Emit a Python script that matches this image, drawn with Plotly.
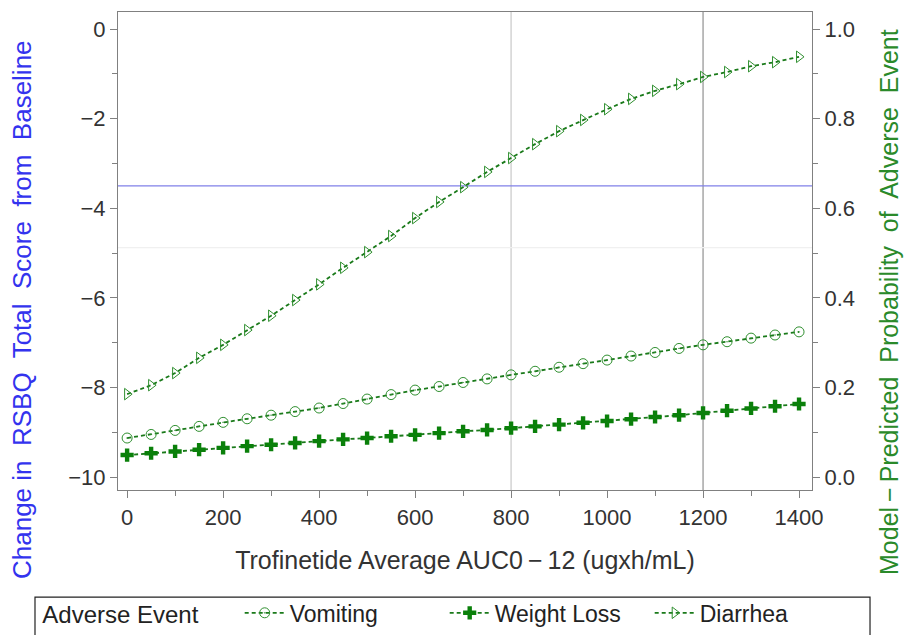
import plotly.graph_objects as go

auc = [0, 50, 100, 150, 200, 250, 300, 350, 400, 450, 500, 550, 600, 650, 700,
       750, 800, 850, 900, 950, 1000, 1050, 1100, 1150, 1200, 1250, 1300, 1350, 1400]

vomiting = [0.087, 0.095, 0.104, 0.113, 0.122, 0.130, 0.138, 0.146, 0.154, 0.164, 0.174, 0.184, 0.194,
            0.202, 0.211, 0.219, 0.228, 0.236, 0.245, 0.253, 0.261, 0.270, 0.278, 0.287, 0.295,
            0.302, 0.310, 0.317, 0.324]
weight_loss = [0.049, 0.053, 0.057, 0.061, 0.065, 0.069, 0.072, 0.076, 0.080, 0.084, 0.087, 0.091, 0.094,
               0.098, 0.102, 0.105, 0.109, 0.113, 0.117, 0.121, 0.125, 0.129, 0.134, 0.138, 0.143,
               0.148, 0.153, 0.158, 0.163]
diarrhea = [0.185, 0.205, 0.232, 0.266, 0.295, 0.328, 0.360, 0.395, 0.430, 0.467, 0.502, 0.538, 0.578,
            0.614, 0.647, 0.681, 0.712, 0.743, 0.772, 0.797, 0.821, 0.844, 0.862, 0.877, 0.893,
            0.904, 0.917, 0.926, 0.938]

left_ticks = [0, -2, -4, -6, -8, -10]
right_ticks = [0.0, 0.2, 0.4, 0.6, 0.8, 1.0]
right_labels = ["0.0", "0.2", "0.4", "0.6", "0.8", "1.0"]
x_ticks = [0, 200, 400, 600, 800, 1000, 1200, 1400]

FONT = "Liberation Sans"
LINE = "#1a7a1a"
MK = "#2f8f2f"

fig = go.Figure()

# invisible trace to anchor left axis
fig.add_trace(go.Scatter(x=[None], y=[None], yaxis="y", showlegend=False, hoverinfo="skip"))

fig.add_trace(go.Scatter(
    x=auc, y=vomiting, yaxis="y2", name="Vomiting", mode="lines+markers",
    line=dict(color=LINE, width=1.8, dash="4px,3px"),
    marker=dict(symbol="circle-open-dot", size=10, color=MK, line=dict(width=1, color=MK)),
))
fig.add_trace(go.Scatter(
    x=auc, y=weight_loss, yaxis="y2", name="Weight Loss", mode="lines+markers",
    line=dict(color=LINE, width=1.8, dash="4px,3px"),
    marker=dict(symbol="cross", size=11, color="#0a800a", line=dict(width=0)),
))
fig.add_trace(go.Scatter(
    x=auc, y=diarrhea, yaxis="y2", name="Diarrhea", mode="lines+markers",
    line=dict(color=LINE, width=1.8, dash="4px,3px"),
    marker=dict(symbol="triangle-right-open", size=10, color=MK, line=dict(width=1, color=MK)),
))

shapes = [
    dict(type="line", xref="x", yref="paper", x0=800, x1=800, y0=0, y1=1,
         line=dict(color="#c8c8c8", width=1.2), layer="below"),
    dict(type="line", xref="x", yref="paper", x0=1200, x1=1200, y0=0, y1=1,
         line=dict(color="#909090", width=1.2), layer="below"),
    dict(type="line", xref="paper", yref="y", x0=0, x1=1, y0=-3.5, y1=-3.5,
         line=dict(color="#8080e8", width=1.2), layer="below"),
    dict(type="line", xref="paper", yref="y", x0=0, x1=1, y0=-4.88, y1=-4.88,
         line=dict(color="#f0f0f0", width=1.2), layer="below"),
    dict(type="rect", xref="paper", yref="paper", x0=-0.1196, x1=1.0836, y0=-0.224, y1=-0.40,
         line=dict(color="#222222", width=1.2), fillcolor="rgba(0,0,0,0)"),
]

# plot area: x 118..812 px, y 12..490 px
def px_x(p):
    return (p - 118) / 694.0

def px_y(p):
    return (490 - p) / 478.0

annotations = [
    dict(text="Change in  RSBQ  Total  Score  from  Baseline", textangle=-90,
         xref="paper", yref="paper", x=px_x(22), y=px_y(310), xanchor="center", yanchor="middle",
         showarrow=False, font=dict(family=FONT, size=26, color="#3333ee")),
    dict(text="Model\u2009\u2212\u2009Predicted  Probability  of  Adverse  Event", textangle=-90,
         xref="paper", yref="paper", x=px_x(889), y=px_y(302), xanchor="center", yanchor="middle",
         showarrow=False, font=dict(family=FONT, size=25, color="#2a8a2a")),
]

axis_common = dict(
    showgrid=False, zeroline=False, showline=True, linecolor="#808080", linewidth=1.2,
    ticks="outside", ticklen=7, tickcolor="#808080", tickwidth=1,
    tickfont=dict(family=FONT, size=22, color="#333333"),
)

fig.update_layout(
    width=906, height=635,
    margin=dict(l=118, r=94, t=12, b=145, autoexpand=False),
    paper_bgcolor="white", plot_bgcolor="white",
    font=dict(family=FONT, color="#333333"),
    shapes=shapes,
    annotations=annotations,
    xaxis=dict(
        range=[-19, 1427], tickvals=x_ticks, mirror=True,
        minor=dict(dtick=100, tick0=0, ticks="outside", ticklen=5, tickcolor="#808080"),
        title=dict(text="Trofinetide Average AUC0\u2009\u2212\u200912 (ugxh/mL)", font=dict(family=FONT, size=25, color="#333333"), standoff=22),
        **axis_common,
    ),
    yaxis=dict(
        range=[-10.29, 0.38], tickvals=left_ticks,
        minor=dict(dtick=1, tick0=0, ticks="outside", ticklen=5, tickcolor="#808080"),
        **axis_common,
    ),
    yaxis2=dict(
        overlaying="y", side="right", range=[-0.029, 1.038],
        tickvals=right_ticks, ticktext=right_labels,
        minor=dict(dtick=0.1, tick0=0, ticks="outside", ticklen=5, tickcolor="#808080"),
        **axis_common,
    ),
    legend=dict(
        orientation="h", x=-0.112, xanchor="left", y=-0.257, yanchor="middle",
        title=dict(text="Adverse Event     ", font=dict(family=FONT, size=24, color="#222222")),
        font=dict(family=FONT, size=23, color="#222222"),
        entrywidth=150, entrywidthmode="pixels",
        bgcolor="rgba(0,0,0,0)", borderwidth=0, itemwidth=40,
    ),
)

fig.write_html("out.html")
